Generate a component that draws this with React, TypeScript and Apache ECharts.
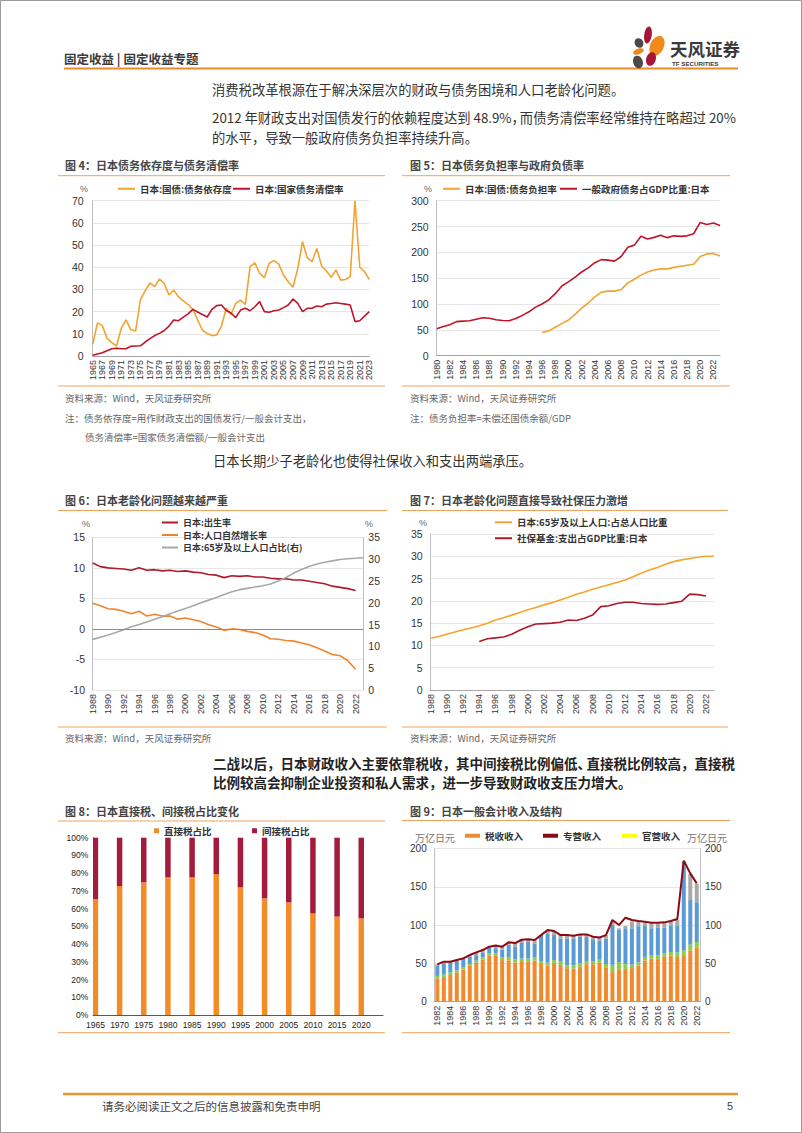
import React, { useEffect, useRef } from 'react';
import * as echarts from 'echarts';

const range = (a: number, b: number) => {
  const r: string[] = [];
  for (let y = a; y <= b; y++) r.push(String(y));
  return r;
};

// ---------- 图4 ----------
const years4 = range(1965, 2023);
const dependency4 = [
  5.3, 14.9, 13.8, 8.0, 6.0, 4.5, 12.5, 16.3, 11.8, 11.3,
  25.3, 29.4, 32.9, 31.3, 34.7, 32.6, 27.5, 29.7, 26.6, 24.8,
  23.2, 21.0, 16.3, 11.6, 10.1, 9.2, 9.5, 13.5, 21.5, 18.7,
  23.7, 25.2, 23.3, 40.3, 42.0, 37.3, 35.3, 41.8, 43.0, 41.5,
  36.5, 33.5, 31.0, 39.5, 51.5, 44.3, 42.5, 48.5, 40.6, 38.3,
  35.5, 38.8, 34.2, 34.5, 35.8, 70.0, 40.0, 38.0, 34.5,
];
const repayment4 = [
  0.3, 0.9, 1.5, 2.4, 3.3, 3.5, 3.3, 3.3, 4.4, 4.5,
  4.6, 6.3, 7.8, 9.2, 10.2, 11.5, 13.5, 16.2, 15.9, 17.5,
  19.0, 21.0, 19.8, 18.7, 17.6, 21.0, 22.7, 23.0, 20.5, 19.4,
  17.3, 20.7, 21.5, 20.4, 22.2, 24.5, 20.0, 19.7, 20.4, 20.7,
  21.8, 23.0, 25.7, 23.7, 20.0, 21.5, 21.5, 22.5, 22.2, 23.4,
  23.7, 24.0, 23.7, 23.4, 23.0, 15.5, 15.9, 18.0, 20.0,
];

// ---------- 图5 ----------
const years5 = range(1980, 2023);
const burden5 = [
  null, null, null, null, null, null, null, null, null, null,
  null, null, null, null, null, null,
  45, 48, 55, 62, 69, 80, 92, 102, 114, 123,
  125, 125, 128, 141, 148, 156, 162, 166, 168, 168,
  171, 173, 175, 177, 192, 197, 198, 193,
];
const govDebt5 = [
  52, 56.5, 60, 66, 67, 67.5, 70.5, 73.5, 72.5, 69.5,
  68, 67.5, 72, 78, 85, 94, 100, 108, 120, 135,
  143, 152, 162, 170, 180, 186, 185, 183, 192, 210,
  214, 231, 226, 229, 233, 228.5, 232, 231, 232, 236,
  258, 254, 257, 252,
];

// ---------- 图6 ----------
const years6 = range(1988, 2023);
const birth6 = [
  10.8, 10.2, 10.0, 9.9, 9.8, 9.6, 10.0, 9.6, 9.7, 9.5,
  9.6, 9.4, 9.5, 9.3, 9.2, 8.9, 8.8, 8.4, 8.7, 8.6,
  8.7, 8.5, 8.5, 8.3, 8.2, 8.2, 8.0, 8.0, 7.8, 7.6,
  7.4, 7.0, 6.8, 6.6, 6.3, null,
];
const natural6 = [
  4.2, 3.8, 3.3, 3.2, 2.9, 2.5, 2.9, 2.1, 2.4, 2.1,
  2.1, 1.6, 1.8, 1.5, 1.2, 0.7, 0.3, -0.2, 0.0, -0.1,
  -0.4, -0.6, -1.0, -1.6, -1.7, -1.9, -2.0, -2.3, -2.6, -3.1,
  -3.6, -4.2, -4.4, -5.2, -6.6, null,
];
const elderly6 = [
  11.6, 12.1, 12.6, 13.2, 13.8, 14.5, 15.0, 15.6, 16.2, 16.8,
  17.5, 18.1, 18.7, 19.3, 20.0, 20.6, 21.2, 21.9, 22.5, 23.0,
  23.3, 23.6, 23.9, 24.3, 25.0, 25.8, 26.8, 27.6, 28.3, 28.9,
  29.3, 29.6, 29.9, 30.1, 30.2, 30.3,
];

// ---------- 图7 ----------
const years7 = range(1988, 2023);
const elderly7 = [
  11.6, 12.0, 12.5, 13.0, 13.5, 13.9, 14.4, 15.0, 15.7, 16.2,
  16.8, 17.4, 18.0, 18.5, 19.1, 19.6, 20.2, 20.8, 21.5, 22.0,
  22.6, 23.1, 23.6, 24.1, 24.7, 25.4, 26.2, 26.9, 27.5, 28.2,
  28.8, 29.2, 29.5, 29.8, 30.0, 30.0,
];
const social7 = [
  null, null, null, null, null, null,
  10.9, 11.5, 11.7, 11.9, 12.5, 13.4, 14.2, 14.8, 14.9, 15.0,
  15.2, 15.7, 15.6, 16.1, 16.8, 18.7, 18.9, 19.4, 19.7, 19.7,
  19.4, 19.3, 19.2, 19.3, 19.6, 19.9, 21.5, 21.4, 21.1, null,
];

// ---------- 图8 ----------
const axisYears8 = range(1965, 2024);
const barYears8 = ['1965', '1970', '1975', '1980', '1985', '1990', '1995', '2000', '2005', '2010', '2015', '2020'];
const direct8 = [65.4, 72.7, 74.8, 77.6, 77.6, 79.5, 72.0, 65.8, 63.5, 57.3, 55.5, 54.5];
const indirect8 = [34.6, 27.3, 25.2, 22.4, 22.4, 20.5, 28.0, 34.2, 36.5, 42.7, 44.5, 45.5];

// ---------- 图9 ----------
const years9 = range(1982, 2022);
const tax9 = [
  30.5, 32.4, 34.9, 38.2, 41.9, 46.8, 50.8, 54.9, 60.1, 59.8,
  54.4, 54.1, 51.0, 51.9, 52.1, 53.9, 49.4, 47.2, 50.7, 47.9,
  43.8, 43.3, 45.6, 49.1, 49.1, 51.0, 44.3, 38.7, 41.5, 42.8,
  43.9, 47.0, 54.0, 56.3, 55.5, 58.8, 60.4, 58.4, 60.8, 67.0,
  71.1,
];
const other9 = [
  3.2, 3.4, 3.2, 2.9, 2.8, 2.6, 2.8, 3.1, 3.3, 3.4,
  3.9, 4.4, 4.2, 4.5, 4.2, 3.8, 3.6, 3.8, 3.7, 4.3,
  3.9, 4.2, 4.3, 4.1, 4.0, 3.8, 5.0, 9.5, 10.4, 6.2,
  4.5, 4.3, 4.5, 4.8, 5.1, 4.3, 4.5, 6.0, 6.3, 7.6,
  6.9,
];
const bond9 = [
  14.0, 13.5, 12.8, 12.3, 11.3, 9.4, 7.2, 6.6, 7.3, 6.7,
  9.5, 16.2, 16.5, 21.2, 21.7, 18.5, 34.0, 37.5, 33.0, 30.0,
  35.0, 35.3, 35.5, 31.3, 27.5, 25.4, 33.2, 52.0, 42.3, 47.0,
  47.5, 47.5, 40.5, 34.9, 36.6, 33.6, 34.4, 34.6, 110.0, 58.4,
  52.0,
];
const carry9 = [
  1.1, 3.0, 1.4, 1.1, 0.6, 2.2, 3.7, 2.9, 1.2, 3.7,
  4.1, 2.9, 5.0, 3.4, 3.5, 4.4, 0.0, 5.2, 5.0, 4.9,
  4.4, 3.5, 2.6, 3.5, 4.4, 3.8, 4.5, 4.4, 1.7, 3.0,
  9.0, 6.0, 4.5, 6.3, 5.2, 6.5, 5.0, 8.0, 6.5, 34.0,
  24.0,
];
const total9 = [
  48.8, 52.3, 52.3, 54.5, 56.6, 61.0, 64.5, 67.5, 71.9, 73.6,
  71.9, 77.6, 76.7, 81.0, 81.5, 80.6, 87.0, 93.7, 92.4, 87.1,
  87.1, 86.3, 88.0, 88.0, 85.0, 84.0, 87.0, 106.8, 100.2, 109.8,
  106.8, 105.4, 104.6, 103.3, 103.3, 103.7, 105.4, 108.0, 184.3, 167.8,
  154.7,
];

const FONT = '"Noto Sans CJK SC", "Liberation Sans", sans-serif';
const NUM = '"Liberation Sans", Arial, sans-serif';
const ORANGE_LINE = '#F0A35E';

const T = (text: string, x: number, y: number, size: number, o: any = {}) => ({
  type: 'text',
  x,
  y,
  silent: true,
  style: {
    text,
    fontSize: size,
    fontFamily: o.family || FONT,
    fontWeight: o.weight || 'normal',
    fill: o.color || '#333',
    align: o.align || 'left',
    textAlign: o.align || 'left',
    verticalAlign: 'middle',
    textVerticalAlign: 'middle',
  },
});
const L = (x1: number, y1: number, x2: number, y2: number, color: string, w: number) => ({
  type: 'line',
  silent: true,
  shape: { x1, y1, x2, y2 },
  style: { stroke: color, lineWidth: w },
});
const petal = (cx: number, cy: number, rx: number, ry: number, rot: number, color: string) => ({
  type: 'ellipse',
  x: cx,
  y: cy,
  rotation: rot,
  silent: true,
  shape: { cx: 0, cy: 0, rx, ry },
  style: { fill: color },
});

const catAxis = (gridIndex: number, data: string[], extra: any = {}) => ({
  type: 'category',
  gridIndex,
  data,
  boundaryGap: false,
  axisLine: { show: true, onZero: false, lineStyle: { color: '#A6A6A6' } },
  axisTick: { show: false },
  axisLabel: { rotate: 90, interval: 1, fontSize: 9, color: '#333', fontFamily: NUM, margin: 4 },
  splitLine: { show: false },
  ...extra,
});
const valAxis = (gridIndex: number, min: number, max: number, interval: number, margin: number, extra: any = {}) => ({
  type: 'value',
  gridIndex,
  min,
  max,
  interval,
  axisLine: { show: true, lineStyle: { color: '#BFBFBF' } },
  axisTick: { show: false },
  axisLabel: { fontSize: 10.5, color: '#333', fontFamily: NUM, margin },
  splitLine: { show: true, lineStyle: { color: '#E6E6E6', width: 1 } },
  ...extra,
});
const lineS = (name: string, x: number, y: number, data: any[], color: string, extra: any = {}) => ({
  type: 'line',
  name,
  xAxisIndex: x,
  yAxisIndex: y,
  data,
  symbol: 'none',
  showSymbol: false,
  lineStyle: { color, width: 1.6 },
  itemStyle: { color },
  ...extra,
});
const legendText = { fontSize: 9.5, fontFamily: FONT, fontWeight: 'bold', color: '#333' };
const leg = (name: string, left: number, top: number, w: number, h: number, extra: any = {}) => ({
  data: [{ name, icon: 'rect' }],
  left,
  top,
  padding: 0,
  itemWidth: w,
  itemHeight: h,
  itemGap: 0,
  selectedMode: false,
  textStyle: legendText,
  ...extra,
});
const smallLegendText = { fontSize: 9, fontFamily: FONT, fontWeight: 'bold', color: '#333', lineHeight: 11 };

function buildOption(): any {
  const expand8 = (vals: number[]) =>
    axisYears8.map((y) => {
      const i = barYears8.indexOf(y);
      return i >= 0 ? vals[i] : null;
    });

  const graphics: any[] = [
    { type: 'rect', silent: true, shape: { x: 0.5, y: 0.5, width: 801, height: 1132 }, style: { fill: 'none', stroke: '#9A9A9A', lineWidth: 1 } },
    // header
    T('固定收益 | 固定收益专题', 64, 58, 12.5, { weight: 'bold', color: '#3A3A3A' }),
    L(64, 68.5, 738, 68.5, '#E98B2A', 2),
    petal(648, 35, 3.8, 8.5, -0.15, '#A5163A'),
    petal(639, 43, 4.3, 5, 0.5, '#4A4A4A'),
    petal(657, 46, 6.8, 10.5, -0.45, '#F08A1C'),
    petal(638.5, 51.5, 5.5, 2.8, 0.3, '#F08A1C'),
    petal(638, 62, 4.8, 6.5, 0.3, '#4A4A4A'),
    petal(651, 59, 4.8, 7, -0.3, '#A5163A'),
    T('天风证券', 670, 48, 17.5, { weight: 'bold', color: '#3A3A3A' }),
    T('TF SECURITIES', 672, 63, 6.2, { weight: 'bold', color: '#3A3A3A', family: NUM }),
    // paragraph 1
    T('消费税改革根源在于解决深层次的财政与债务困境和人口老龄化问题。', 212, 89, 13.3),
    T('2012 年财政支出对国债发行的依赖程度达到 48.9%，', 212, 117, 13.3),
    T('而债务清偿率经常维持在略超过 20%', 736, 117, 13.3, { align: 'right' }),
    T('的水平，导致一般政府债务负担率持续升高。', 212, 137, 13.3),
    // chart 4 frame
    T('图 4：日本债务依存度与债务清偿率', 65, 165, 11, { weight: 'bold', color: '#444' }),
    L(58, 175.7, 385, 175.7, ORANGE_LINE, 1),
    T('%', 80, 188.5, 9, { color: '#666', family: NUM }),
    L(58, 386, 385, 386, ORANGE_LINE, 1),
    T('资料来源：Wind，天风证券研究所', 65, 397.5, 9.5, { color: '#666' }),
    T('注：债务依存度=用作财政支出的国债发行/一般会计支出，', 65, 418, 9.5, { color: '#666' }),
    T('债务清偿率=国家债务清偿额/一般会计支出', 85, 437, 9.5, { color: '#666' }),
    // chart 5 frame
    T('图 5：日本债务负担率与政府负债率', 410, 165, 11, { weight: 'bold', color: '#444' }),
    L(402, 175.7, 730, 175.7, ORANGE_LINE, 1),
    T('%', 424, 188.5, 9, { color: '#666', family: NUM }),
    L(402, 386, 730, 386, ORANGE_LINE, 1),
    T('资料来源：Wind，天风证券研究所', 410, 397.5, 9.5, { color: '#666' }),
    T('注：债务负担率=未偿还国债余额/GDP', 410, 418, 9.5, { color: '#666' }),
    // paragraph 2
    T('日本长期少子老龄化也使得社保收入和支出两端承压。', 213, 460, 13.3),
    // chart 6 frame
    T('图 6：日本老龄化问题越来越严重', 65, 500, 11, { weight: 'bold', color: '#444' }),
    L(58, 510.5, 387, 510.5, ORANGE_LINE, 1),
    T('%', 82, 523.5, 9, { color: '#666', family: NUM }),
    T('%', 365, 523.5, 9, { color: '#666', family: NUM }),
    L(58, 727, 387, 727, ORANGE_LINE, 1),
    T('资料来源：Wind，天风证券研究所', 65, 738, 9.5, { color: '#666' }),
    // chart 7 frame
    T('图 7：日本老龄化问题直接导致社保压力激增', 410, 500, 11, { weight: 'bold', color: '#444' }),
    L(402, 510.5, 728, 510.5, ORANGE_LINE, 1),
    T('%', 419, 523, 9, { color: '#666', family: NUM }),
    L(402, 727, 728, 727, ORANGE_LINE, 1),
    T('资料来源：Wind，天风证券研究所', 410, 738, 9.5, { color: '#666' }),
    // paragraph 3 (bold)
    T('二战以后，日本财政收入主要依靠税收，其中间接税比例偏低、', 213, 763, 13.5, { weight: 'bold', color: '#222' }),
    T('直接税比例较高，直接税', 735, 763, 13.5, { weight: 'bold', color: '#222', align: 'right' }),
    T('比例较高会抑制企业投资和私人需求，进一步导致财政收支压力增大。', 213, 782, 13.5, { weight: 'bold', color: '#222' }),
    // chart 8 frame
    T('图 8：日本直接税、间接税占比变化', 65, 811, 11, { weight: 'bold', color: '#444' }),
    L(58, 821, 385, 821, ORANGE_LINE, 1),
    L(58, 1032.7, 385, 1032.7, ORANGE_LINE, 1),
    // chart 9 frame
    T('图 9：日本一般会计收入及结构', 410, 811, 11, { weight: 'bold', color: '#444' }),
    L(402, 820.5, 730, 820.5, ORANGE_LINE, 1),
    T('万亿日元', 415, 837, 10, { color: '#777' }),
    T('万亿日元', 687, 837, 10, { color: '#777' }),
    L(402, 1032.7, 730, 1032.7, ORANGE_LINE, 1),
    // footer
    L(63, 1094, 738, 1094, '#E8962F', 2.5),
    T('请务必阅读正文之后的信息披露和免责申明', 102, 1106, 11.5, { color: '#444' }),
    T('5', 733, 1106, 11, { color: '#444', family: NUM, align: 'right' }),
  ];

  return {
    animation: false,
    backgroundColor: '#ffffff',
    textStyle: { fontFamily: FONT },
    graphic: graphics,
    legend: [
      leg('日本:国债:债务依存度', 118, 184, 17, 2),
      leg('日本:国家债务清偿率', 233, 184, 17, 2),
      leg('日本:国债:债务负担率', 443, 184, 17, 2),
      leg('一般政府债务占GDP比重:日本', 560, 184, 17, 2),
      leg('日本:出生率', 162, 517, 16, 2, { textStyle: smallLegendText }),
      leg('日本:人口自然增长率', 162, 529.5, 16, 2, { textStyle: smallLegendText }),
      leg('日本:65岁及以上人口占比(右)', 162, 542, 16, 2, { textStyle: smallLegendText }),
      leg('日本:65岁及以上人口:占总人口比重', 495, 517.5, 17, 2),
      leg('社保基金:支出占GDP比重:日本', 495, 533.5, 17, 2),
      leg('直接税占比', 154, 826, 5, 5),
      leg('间接税占比', 252, 826, 5, 5),
      leg('税收收入', 465, 831, 15, 4),
      leg('专营收入', 543, 831, 15, 4),
      leg('官营收入', 622, 831, 15, 4),
    ],
    grid: [
      { left: 92.7, top: 200.7, width: 276.6, height: 155.3 },
      { left: 436.7, top: 200.7, width: 283.3, height: 155 },
      { left: 92.7, top: 537.3, width: 270.6, height: 152.7 },
      { left: 430.7, top: 534, width: 283.3, height: 156 },
      { left: 93, top: 837.7, width: 290, height: 177.3 },
      { left: 434.1, top: 848.7, width: 265.9, height: 153 },
    ],
    xAxis: [
      catAxis(0, years4),
      catAxis(1, years5),
      catAxis(2, years6, { axisLine: { show: false, onZero: false } }),
      catAxis(3, years7),
      {
        type: 'category',
        gridIndex: 4,
        data: axisYears8,
        boundaryGap: true,
        axisLine: { show: true, onZero: false, lineStyle: { color: '#595959' } },
        axisTick: { show: false },
        axisLabel: { interval: 4, fontSize: 8.5, color: '#222', fontFamily: NUM, margin: 5 },
        splitLine: { show: false },
      },
      catAxis(5, years9, { boundaryGap: true }),
    ],
    yAxis: [
      valAxis(0, 0, 70, 10, 9),
      valAxis(1, 0, 300, 50, 8),
      valAxis(2, -10, 15, 5, 7.7),
      valAxis(2, 0, 35, 5, 5, { position: 'right', splitLine: { show: false } }),
      valAxis(3, 0, 35, 5, 8),
      valAxis(4, 0, 100, 10, 4.7, {
        axisLine: { show: true, lineStyle: { color: '#595959' } },
        axisLabel: { fontSize: 8.5, color: '#222', fontFamily: NUM, margin: 4.7, formatter: '{value}%' },
        splitLine: { show: false },
      }),
      valAxis(5, 0, 200, 50, 7.4, { axisLabel: { fontSize: 10, color: '#333', fontFamily: NUM, margin: 7.4 } }),
      valAxis(5, 0, 200, 50, 5, {
        position: 'right',
        splitLine: { show: false },
        axisLabel: { fontSize: 10, color: '#333', fontFamily: NUM, margin: 5 },
      }),
    ],
    series: [
      // chart 4
      lineS('日本:国债:债务依存度', 0, 0, dependency4, '#F2A332'),
      lineS('日本:国家债务清偿率', 0, 0, repayment4, '#C0142B'),
      // chart 5
      lineS('日本:国债:债务负担率', 1, 1, burden5, '#F2A332'),
      lineS('一般政府债务占GDP比重:日本', 1, 1, govDebt5, '#C0142B'),
      // chart 6
      lineS('日本:出生率', 2, 2, birth6, '#B0182B', {
        markLine: {
          silent: true,
          symbol: 'none',
          label: { show: false },
          lineStyle: { color: '#8C8C8C', type: 'solid', width: 1 },
          data: [{ yAxis: 0 }],
        },
      }),
      lineS('日本:人口自然增长率', 2, 2, natural6, '#F0842C'),
      lineS('日本:65岁及以上人口占比(右)', 2, 3, elderly6, '#A8A8A8'),
      // chart 7
      lineS('日本:65岁及以上人口:占总人口比重', 3, 4, elderly7, '#F5A42C'),
      lineS('社保基金:支出占GDP比重:日本', 3, 4, social7, '#B0182B'),
      // chart 8
      {
        type: 'bar', name: '直接税占比', xAxisIndex: 4, yAxisIndex: 5, stack: 's8',
        data: expand8(direct8), barWidth: 5.5, itemStyle: { color: '#F28C28' },
      },
      {
        type: 'bar', name: '间接税占比', xAxisIndex: 4, yAxisIndex: 5, stack: 's8',
        data: expand8(indirect8), barWidth: 5.5, itemStyle: { color: '#A31C3E' },
      },
      // chart 9
      {
        type: 'bar', name: '税收收入', xAxisIndex: 5, yAxisIndex: 6, stack: 's9',
        data: tax9, barWidth: 4, itemStyle: { color: '#F08A2C' },
      },
      {
        type: 'bar', name: '其他收入', xAxisIndex: 5, yAxisIndex: 6, stack: 's9',
        data: other9, barWidth: 4, itemStyle: { color: '#8DCB4A' },
      },
      {
        type: 'bar', name: '公债金收入', xAxisIndex: 5, yAxisIndex: 6, stack: 's9',
        data: bond9, barWidth: 4, itemStyle: { color: '#5B9BD5' },
      },
      {
        type: 'bar', name: '前年度剩余金', xAxisIndex: 5, yAxisIndex: 6, stack: 's9',
        data: carry9, barWidth: 4, itemStyle: { color: '#A9A9A9' },
      },
      {
        type: 'bar', name: '官营收入', xAxisIndex: 5, yAxisIndex: 6, stack: 's9',
        data: [], barWidth: 4, itemStyle: { color: '#FFFF00' },
      },
      lineS('专营收入', 5, 6, total9, '#8B0A14', { lineStyle: { color: '#8B0A14', width: 2 }, z: 5 }),
    ],
  };
}

export default function App() {
  const ref = useRef<HTMLDivElement>(null);
  useEffect(() => {
    if (!ref.current) return;
    document.body.style.margin = '0';
    const chart = echarts.init(ref.current, undefined, { renderer: 'svg', width: 802, height: 1133 });
    chart.setOption(buildOption());
    return () => chart.dispose();
  }, []);
  return (
    <div
      ref={ref}
      style={{ position: 'absolute', left: 0, top: 0, width: 802, height: 1133, background: '#fff' }}
    />
  );
}
